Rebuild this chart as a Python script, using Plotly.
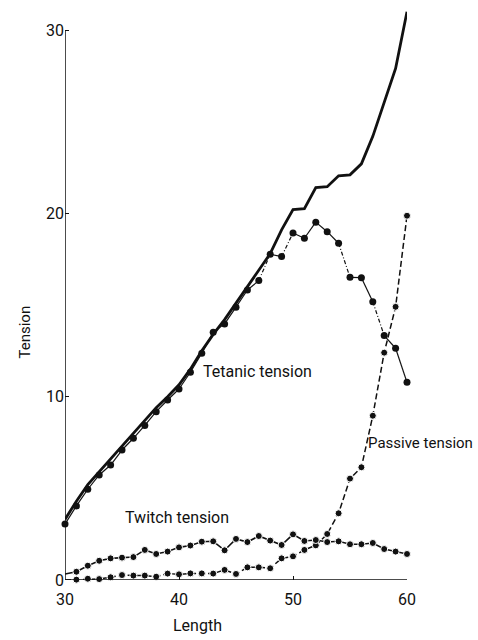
import plotly.graph_objects as go

length = list(range(30, 61))

total_tetanic = [3.3, 4.3, 5.2, 5.9, 6.6, 7.3, 7.95, 8.65, 9.4, 10.0, 10.65,
                 11.5, 12.5, 13.4, 14.2, 15.1, 16.0, 16.9, 17.8, 19.1, 20.2,
                 20.25, 21.4, 21.45, 22.05, 22.1, 22.7, 24.2, 26.0, 27.9, 31.0]

active_tetanic = [3.05, 4.04, 4.95, 5.73, 6.27, 7.09, 7.73, 8.43, 9.18, 9.82, 10.42,
                  11.33, 12.37, 13.51, 13.97, 14.88, 15.82, 16.33, 17.77, 17.64, 18.93,
                  18.64, 19.52, 19.0, 18.37, 16.51, 16.49, 15.18, 13.33, 12.64, 10.78]

passive = [0.0, 0.02, 0.07, 0.05, 0.15, 0.27, 0.24, 0.24, 0.18, 0.35, 0.31,
           0.36, 0.36, 0.35, 0.55, 0.33, 0.69, 0.69, 0.64, 1.18, 1.29,
           1.64, 1.89, 2.51, 3.64, 5.53, 6.15, 8.96, 12.4, 14.9, 19.87]

twitch = [0.33, 0.45, 0.78, 1.05, 1.18, 1.22, 1.25, 1.64, 1.42, 1.55, 1.78,
          1.88, 2.09, 2.11, 1.62, 2.24, 2.07, 2.4, 2.15, 1.91, 2.49,
          2.13, 2.18, 2.07, 2.11, 1.95, 1.95, 2.02, 1.69, 1.55, 1.42]

# segments of the active tetanic curve drawn broken (start lengths)
active_dashed_starts = [47, 49, 54, 57]

x_ticks = [30, 40, 50, 60]
y_ticks = [0, 10, 20, 30]

FONT = "Roboto, Liberation Sans, sans-serif"
BLACK = "#111111"

fig = go.Figure()

# total tetanic tension (heavy solid line)
fig.add_trace(go.Scatter(x=length, y=total_tetanic, mode="lines",
                         line=dict(color=BLACK, width=2.8), cliponaxis=False,
                         showlegend=False))

# active tetanic tension: split into solid / broken segments
sx, sy, dx, dy = [], [], [], []
for i in range(len(length) - 1):
    seg_x = [length[i], length[i + 1], None]
    seg_y = [active_tetanic[i], active_tetanic[i + 1], None]
    if length[i] in active_dashed_starts:
        dx += seg_x
        dy += seg_y
    else:
        sx += seg_x
        sy += seg_y
fig.add_trace(go.Scatter(x=sx, y=sy, mode="lines", line=dict(color=BLACK, width=1.2),
                         showlegend=False, connectgaps=False))
fig.add_trace(go.Scatter(x=dx, y=dy, mode="lines",
                         line=dict(color=BLACK, width=1.2, dash="4px,2px,1px,2px"),
                         showlegend=False, connectgaps=False))
fig.add_trace(go.Scatter(x=length, y=active_tetanic, mode="markers",
                         marker=dict(color=BLACK, size=7, opacity=1), cliponaxis=False,
                         showlegend=False))

marker_sizes = [0] + [7] * (len(length) - 1)

# passive tension (dashed)
fig.add_trace(go.Scatter(x=length, y=passive, mode="lines+markers",
                         line=dict(color=BLACK, width=1.5, dash="6px,3px"),
                         marker=dict(color=BLACK, size=marker_sizes, opacity=1),
                         cliponaxis=False, showlegend=False))

# twitch tension
fig.add_trace(go.Scatter(x=length, y=twitch, mode="lines+markers",
                         line=dict(color=BLACK, width=1.6),
                         marker=dict(color=BLACK, size=marker_sizes, opacity=1),
                         cliponaxis=False, showlegend=False))

# axis lines
fig.add_shape(type="line", xref="x", yref="y", x0=30, x1=60, y0=0, y1=0,
              line=dict(color=BLACK, width=1.5))
fig.add_shape(type="line", xref="x", yref="y", x0=30, x1=30, y0=0, y1=30,
              line=dict(color=BLACK, width=1.5))

txt = dict(family=FONT, size=16, color=BLACK)
fig.add_annotation(x=46.9, y=11.35, xref="x", yref="y", text="Tetanic tension",
                   showarrow=False, font=txt)
fig.add_annotation(x=39.8, y=3.4, xref="x", yref="y", text="Twitch tension",
                   showarrow=False, font=txt)
fig.add_annotation(x=1.2, y=7.47, xref="paper", yref="y", text="Passive tension",
                   showarrow=False, xanchor="right", font=dict(family=FONT, size=15, color=BLACK))
fig.add_annotation(x=41.6, y=-0.1, xref="x", yref="paper", text="Length",
                   showarrow=False, font=txt)
fig.add_annotation(x=-0.152, y=13.5, xref="paper", yref="y", text="Tension",
                   showarrow=False, textangle=-90, font=dict(family=FONT, size=15, color=BLACK))

fig.update_layout(
    width=478, height=640,
    margin=dict(l=65, r=71, t=8, b=60),
    paper_bgcolor="white", plot_bgcolor="white",
    xaxis=dict(range=[30, 60], tickvals=x_ticks, ticktext=[str(v) for v in x_ticks],
               ticks="inside", ticklen=4, tickcolor=BLACK, showgrid=False,
               zeroline=False, showline=False, ticklabelstandoff=8,
               tickfont=dict(family=FONT, size=16, color=BLACK)),
    yaxis=dict(range=[0, 31.2], tickvals=y_ticks, ticktext=[str(v) for v in y_ticks],
               ticks="inside", ticklen=4, tickcolor=BLACK, showgrid=False,
               zeroline=False, showline=False,
               tickfont=dict(family=FONT, size=16, color=BLACK)),
)

# remove the default page margin so the 478x640 figure fills the window exactly
fig.write_html("out.html", config={"displayModeBar": False},
               post_script="document.body.style.margin='0';document.body.style.overflow='hidden';")
